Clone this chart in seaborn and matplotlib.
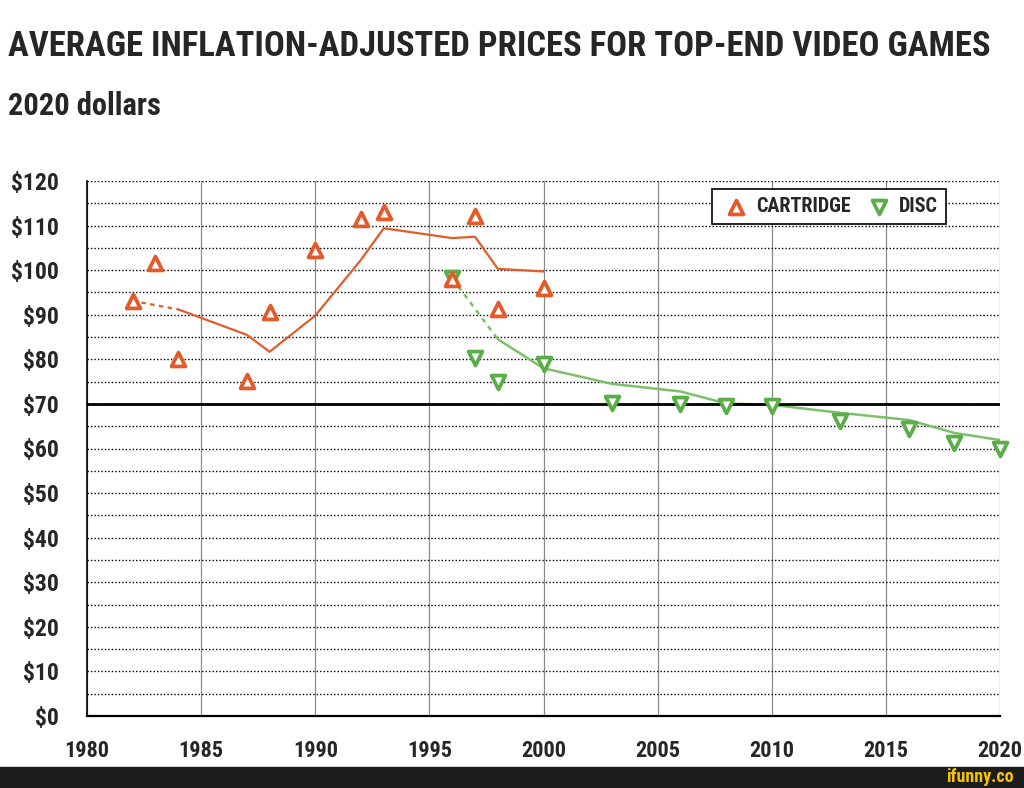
import matplotlib
matplotlib.use("Agg")
import matplotlib.pyplot as plt
import seaborn as sns
from matplotlib import font_manager
from matplotlib.patches import Rectangle
from matplotlib.ticker import MultipleLocator, FuncFormatter

# data
cart_years = [1982, 1983, 1984, 1987, 1988, 1990, 1992, 1993, 1996, 1997, 1998, 2000]
cart_price = [93.1, 101.6, 80.0, 75.1, 90.6, 104.5, 111.5, 113.0, 98.0, 112.2, 91.3, 96.0]
cart_trend_years = [1982, 1984, 1987, 1988, 1990, 1992, 1993, 1996, 1997, 1998, 2000]
cart_trend = [93.1, 91.2, 85.5, 81.7, 89.8, 102.3, 109.4, 107.2, 107.5, 100.3, 99.7]

disc_years = [1996, 1997, 1998, 2000, 2003, 2006, 2008, 2010, 2013, 2016, 2018, 2020]
disc_price = [98.2, 80.2, 75.0, 79.0, 70.3, 70.0, 69.5, 69.5, 66.2, 64.3, 61.3, 60.0]
disc_trend_years = [1996, 1998, 2000, 2003, 2006, 2008, 2010, 2013, 2016, 2018, 2020]
disc_trend = [98.2, 84.5, 78.0, 74.5, 72.8, 70.1, 69.8, 68.0, 66.4, 63.5, 61.9]

x_ticks = list(range(1980, 2021, 5))
y_ticks = list(range(0, 121, 10))

ORANGE = "#E35B2A"
GREEN = "#5AAE48"
GREEN_LINE = "#7DC06B"

sns.set_style("white")
names = {f.name for f in font_manager.fontManager.ttflist}
font = "DejaVu Sans"
for cand in ["Liberation Sans Narrow", "DejaVu Sans Condensed", "Roboto Condensed"]:
    if cand in names:
        font = cand
        break
plt.rcParams["font.family"] = [font, "DejaVu Sans"]
plt.rcParams["font.stretch"] = "condensed"
plt.rcParams["font.weight"] = "bold"

fig = plt.figure(figsize=(10.24, 7.88), dpi=100)
ax = fig.add_axes([87 / 1024, 72 / 788, 913 / 1024, 535 / 788])

# trend lines (first segment dashed)
sns.lineplot(x=disc_trend_years[:2], y=disc_trend[:2], ax=ax, color=GREEN_LINE,
             linestyle=(0, (2, 2)), linewidth=1.8, legend=False, zorder=3)
sns.lineplot(x=disc_trend_years[1:], y=disc_trend[1:], ax=ax, color=GREEN_LINE,
             linewidth=1.8, legend=False, zorder=3)
sns.lineplot(x=cart_trend_years[:2], y=cart_trend[:2], ax=ax, color=ORANGE,
             linestyle=(0, (2, 2)), linewidth=1.6, legend=False, zorder=3)
sns.lineplot(x=cart_trend_years[1:], y=cart_trend[1:], ax=ax, color=ORANGE,
             linewidth=1.6, legend=False, zorder=3)

# points
sns.scatterplot(x=disc_years, y=disc_price, ax=ax, marker="v", s=100, color="white",
                edgecolor=GREEN, linewidth=2.7, label="DISC", zorder=5, clip_on=False)
sns.scatterplot(x=cart_years, y=cart_price, ax=ax, marker="^", s=100, color="white",
                edgecolor=ORANGE, linewidth=2.7, label="CARTRIDGE", zorder=6)

ax.axhline(70, color="black", linewidth=2, zorder=4)

ax.set_xlim(1980, 2020)
ax.set_ylim(0, 120)
ax.set_xticks(x_ticks)
ax.set_yticks(y_ticks)
ax.yaxis.set_minor_locator(MultipleLocator(5))
ax.yaxis.set_major_formatter(FuncFormatter(lambda v, p: f"${v:.0f}"))
ax.grid(False)
ax.yaxis.grid(True, which="both", linestyle=(0, (1, 1.5)), color="black", linewidth=1.0)
ax.xaxis.grid(True, linestyle="-", color="#8a8a8a", linewidth=0.9)
ax.set_axisbelow(True)
ax.set_xlabel("")
ax.set_ylabel("")

for s in ["top", "right"]:
    ax.spines[s].set_visible(False)
ax.spines["left"].set_color("black")
ax.spines["bottom"].set_color("black")
ax.spines["left"].set_linewidth(1.2)
ax.spines["bottom"].set_linewidth(1.6)

ax.tick_params(axis="x", which="major", direction="out", length=5, width=1, color="black",
               pad=12, labelsize=16)
ax.tick_params(axis="y", which="both", length=0, pad=20, labelsize=17)
for lab in ax.get_xticklabels() + ax.get_yticklabels():
    lab.set_fontweight("bold")

handles, labels = ax.get_legend_handles_labels()
order = [labels.index("CARTRIDGE"), labels.index("DISC")]
leg = ax.legend([handles[i] for i in order], [labels[i] for i in order], ncol=2,
                loc="upper right", bbox_to_anchor=(0.941, 0.985), frameon=True,
                fancybox=False, edgecolor="black", framealpha=1, borderaxespad=0,
                prop={"size": 14.5, "weight": "bold"}, handletextpad=0.2,
                columnspacing=0.6, borderpad=0.4, handlelength=1.6)
leg.get_frame().set_linewidth(1.2)

title = fig.text(8 / 1024, 1 - 47 / 788,
                 "AVERAGE INFLATION-ADJUSTED PRICES FOR TOP-END VIDEO GAMES",
                 fontsize=30, fontweight="bold", va="center", ha="left")
fig.text(8 / 1024, 1 - 106 / 788, "2020 dollars", fontsize=22, fontweight="bold",
         va="center", ha="left")

# fit the title to the width it takes in the reference
fig.canvas.draw()
w = title.get_window_extent().width
title.set_fontsize(30 * 980 / w)

# dark strip with watermark at the bottom
fig.patches.append(Rectangle((0, 0), 1, 21 / 788, transform=fig.transFigure,
                             color="#1c1c1c", zorder=0))
fig.text(1014 / 1024, 10.5 / 788, "ifunny.co", color="#F5C400", fontsize=13,
         fontweight="bold", ha="right", va="center")

fig.savefig("out.png", dpi=100)
